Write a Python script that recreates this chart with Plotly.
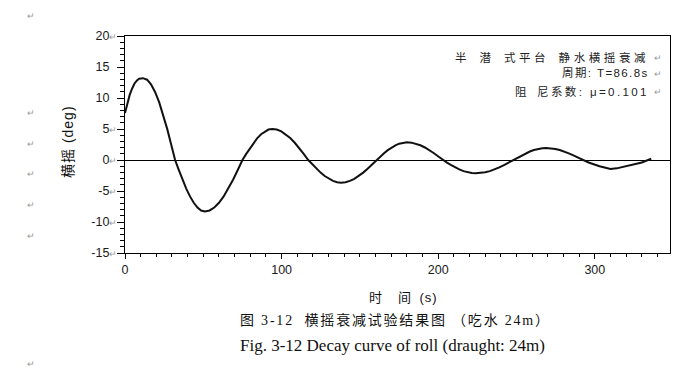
import plotly.graph_objects as go

# ---- data ----
time_s = [0, 1.5, 3, 4.5, 6, 7.5, 9, 11.5,
          14.1, 16.6, 19.2, 21.8, 24.3, 26.9, 29.4, 32,
          34.4, 36.8, 39.1, 41.5, 43.9, 46.3, 48.6, 51,
          54, 57, 60, 63, 66, 69, 72, 75,
          77.4, 79.8, 82.1, 84.5, 86.9, 89.3, 91.6, 94,
          96.9, 99.8, 102.6, 105.5, 108.4, 111.3, 114.1, 117,
          119.6, 122.3, 124.9, 127.5, 130.1, 132.8, 135.4, 138,
          140.8, 143.6, 146.4, 149.3, 152.1, 154.9, 157.7, 160.5,
          162.9, 165.4, 167.8, 170.3, 172.7, 175.1, 177.6, 180,
          182.9, 185.8, 188.6, 191.5, 194.4, 197.3, 200.1, 203,
          205.6, 208.3, 210.9, 213.5, 216.1, 218.8, 221.4, 224,
          227, 230, 233, 236, 239, 242, 245, 248,
          250.6, 253.3, 255.9, 258.5, 261.1, 263.8, 266.4, 269,
          271.9, 274.8, 277.6, 280.5, 283.4, 286.3, 289.1, 292,
          296, 303, 310, 314, 320, 325, 330, 336]
roll_deg = [7.6, 9.2, 10.5, 11.5, 12.3, 12.8, 13.1, 13.2,
            12.95, 12.2, 10.97, 9.33, 7.34, 5.06, 2.57, 0.0,
            -1.62, -3.18, -4.61, -5.87, -6.90, -7.67, -8.14, -8.3,
            -8.14, -7.67, -6.90, -5.87, -4.61, -3.18, -1.62, 0.0,
            0.98, 1.92, 2.78, 3.54, 4.16, 4.62, 4.91, 5.0,
            4.91, 4.62, 4.16, 3.54, 2.78, 1.92, 0.98, 0.0,
            -0.71, -1.40, -2.03, -2.58, -3.03, -3.37, -3.58, -3.65,
            -3.58, -3.37, -3.03, -2.58, -2.03, -1.40, -0.71, 0.0,
            0.56, 1.09, 1.59, 2.02, 2.37, 2.63, 2.80, 2.85,
            2.80, 2.63, 2.37, 2.02, 1.59, 1.09, 0.56, 0.0,
            -0.42, -0.82, -1.20, -1.52, -1.79, -1.99, -2.11, -2.15,
            -2.11, -1.99, -1.79, -1.52, -1.20, -0.82, -0.42, 0.0,
            0.38, 0.74, 1.07, 1.37, 1.60, 1.78, 1.89, 1.93,
            1.89, 1.78, 1.60, 1.37, 1.07, 0.74, 0.38, 0.0,
            -0.4, -1.0, -1.45, -1.35, -1.0, -0.75, -0.4, 0.2]

y_tick_vals = [-15, -10, -5, 0, 5, 10, 15, 20]
y_tick_mark = [True, True, True, True, True, False, False, True]   # Word paragraph marks after label
x_tick_vals = [0, 100, 200, 300]
x_tick_text = ["0", "100", "200", "300"]

info_lines = ["半\u2002潜\u2002式平台\u2002静水横摇衰减",
              "周期: T=86.8s",
              "阻\u2002尼系数: μ=0.101"]
x_title = "时\u2002\u2002间\u2002(s)"
y_title = "横摇 (deg)"
caption_cn = "图 3-12  横摇衰减试验结果图 （吃水 24m）"
caption_en = "Fig. 3-12 Decay curve of roll (draught: 24m)"

# ---- layout geometry (pixels) ----
W, H = 687, 377
L, R, T, B = 125, 670, 36, 253


def px(xp):
    return (xp - L) / (R - L)


def py(yp):
    return (B - yp) / (B - T)


mark = "<span style='color:#9a9a9a;font-size:9px'>↵</span>"
hide = "<span style='color:rgba(0,0,0,0);font-size:9px'>↵</span>"
y_tick_text = [f"{v}{mark if m else hide}" for v, m in zip(y_tick_vals, y_tick_mark)]

fig = go.Figure()
fig.add_trace(go.Scatter(x=time_s, y=roll_deg, mode="lines",
                         line=dict(color="#111111", width=2),
                         hoverinfo="skip", showlegend=False))

tick_font = dict(family="Liberation Sans, Arial, sans-serif", size=12.5, color="#1a1a1a")

fig.update_xaxes(range=[0, 348], showline=True, linecolor="black", linewidth=1.3, mirror=True,
                 ticks="outside", ticklen=5, tickwidth=1, tickcolor="black", automargin=False,
                 tickvals=x_tick_vals, ticktext=x_tick_text, tickfont=tick_font,
                 minor=dict(dtick=10, tick0=0, ticks="outside", ticklen=3, tickcolor="black", tickwidth=1),
                 showgrid=False, zeroline=False)
fig.update_yaxes(range=[-15, 20], showline=True, linecolor="black", linewidth=1.3, mirror=True,
                 ticks="outside", ticklen=7, tickwidth=1, tickcolor="black", automargin=False,
                 tickvals=y_tick_vals, ticktext=y_tick_text, tickfont=tick_font, ticklabelstandoff=-3,
                 minor=dict(dtick=1, tick0=0, ticks="outside", ticklen=4, tickcolor="black", tickwidth=1),
                 showgrid=False, zeroline=True, zerolinecolor="black", zerolinewidth=1.3)

ann = []
info_font = dict(family="Liberation Sans, Noto Sans CJK SC, sans-serif", size=11.5, color="#222222")
for text, yp, sp in zip(info_lines, [57, 73, 91], [3.6, 1.4, 2.4]):
    ann.append(dict(x=px(651), y=py(yp), xref="paper", yref="paper", xanchor="right", yanchor="middle",
                    text=f"<span style='letter-spacing:{sp}px'>{text}</span>", showarrow=False, font=info_font))
    ann.append(dict(x=px(652), y=py(yp), xref="paper", yref="paper", xanchor="left", yanchor="middle",
                    text="↵", showarrow=False, font=dict(size=9, color="#9a9a9a")))

ann.append(dict(x=px(403), y=py(297), xref="paper", yref="paper", xanchor="center", yanchor="middle",
                text=f"<span style='letter-spacing:1px'>{x_title}</span>", showarrow=False,
                font=dict(family="Liberation Sans, Noto Sans CJK SC, sans-serif", size=13, color="#111111")))
ann.append(dict(x=px(68), y=py(142), xref="paper", yref="paper", xanchor="center", yanchor="middle",
                text=f"<span style='letter-spacing:1px'>{y_title}</span>", textangle=-90, showarrow=False,
                font=dict(family="Liberation Sans, Noto Sans CJK SC, sans-serif", size=14, color="#111111")))
ann.append(dict(x=px(395), y=py(320), xref="paper", yref="paper", xanchor="center", yanchor="middle",
                text=f"<span style='letter-spacing:1.8px'>{caption_cn}</span>", showarrow=False,
                font=dict(family="Liberation Serif, Noto Sans CJK SC, serif", size=14, color="#111111")))
ann.append(dict(x=px(392), y=py(345), xref="paper", yref="paper", xanchor="center", yanchor="middle",
                text=caption_en, showarrow=False,
                font=dict(family="Liberation Serif, Times New Roman, serif", size=17, color="#111111")))
for yp in [16, 112, 143, 173, 204, 235, 363]:
    ann.append(dict(x=px(31), y=py(yp), xref="paper", yref="paper", xanchor="center", yanchor="middle",
                    text="↵", showarrow=False, font=dict(size=9, color="#9a9a9a")))

fig.update_layout(width=W, height=H, margin=dict(l=L, r=W - R, t=T, b=H - B),
                  paper_bgcolor="white", plot_bgcolor="white", annotations=ann)

fig.write_html("out.html", config={"displayModeBar": False},
               post_script="document.body.style.margin='0px';document.body.style.overflow='hidden';")
